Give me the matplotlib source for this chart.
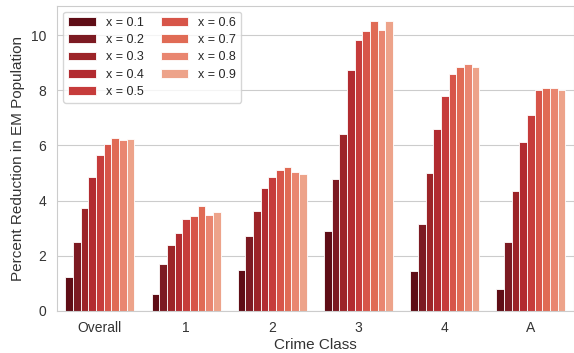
import numpy as np
import matplotlib
matplotlib.use("Agg")
import matplotlib.pyplot as plt
import seaborn as sns

sns.set_style("whitegrid")
plt.rcParams['font.family'] = ['Liberation Sans', 'DejaVu Sans']

classes = ["Overall", "1", "2", "3", "4", "A"]
x_values = ["0.1", "0.2", "0.3", "0.4", "0.5", "0.6", "0.7", "0.8", "0.9"]

# percent reduction per x, one list per crime class
overall = [1.24, 2.50, 3.72, 4.87, 5.66, 6.07, 6.28, 6.20, 6.24]
class_1 = [0.63, 1.69, 2.41, 2.84, 3.35, 3.46, 3.82, 3.49, 3.58]
class_2 = [1.47, 2.71, 3.61, 4.47, 4.87, 5.12, 5.22, 5.05, 4.98]
class_3 = [2.91, 4.78, 6.41, 8.72, 9.84, 10.15, 10.52, 10.18, 10.52]
class_4 = [1.44, 3.14, 5.02, 6.58, 7.80, 8.59, 8.83, 8.96, 8.85]
class_a = [0.80, 2.50, 4.36, 6.14, 7.12, 8.02, 8.07, 8.10, 8.00]

colors = ["#5f0d16", "#7c1a22", "#9c2428", "#b22b30", "#c63c3b",
          "#d75549", "#e06b55", "#e98670", "#eda38a"]

data = np.array([overall, class_1, class_2, class_3, class_4, class_a])

fig = plt.figure(figsize=(5.74, 3.53), dpi=100)
ax = fig.add_axes([0.099, 0.119, 0.901, 0.865])

n = len(x_values)
width = 0.8 / n
pos = np.arange(len(classes))
for i in range(n):
    offs = -0.4 + width * (i + 0.5)
    ax.bar(pos + offs, data[:, i], width, color=colors[i], edgecolor="white",
           linewidth=0.6, label="x = " + x_values[i])

ax.set_xlim(-0.5, len(classes) - 0.5)
ax.set_ylim(0, 11.07)
ax.set_xticks(pos)
ax.set_xticklabels(classes)
ax.set_yticks([0, 2, 4, 6, 8, 10])
ax.tick_params(labelsize=10, colors="#333333", pad=4)
ax.grid(axis="x", visible=False)
ax.set_xlabel("Crime Class", fontsize=11, color="#333333", labelpad=2)
ax.set_ylabel("Percent Reduction in EM Population", fontsize=11, color="#333333")
ax.legend(ncol=2, loc="upper left", fontsize=9, handlelength=2.2,
          columnspacing=1.4, labelspacing=0.42, borderaxespad=0.5)

fig.savefig("out.png", dpi=100)
